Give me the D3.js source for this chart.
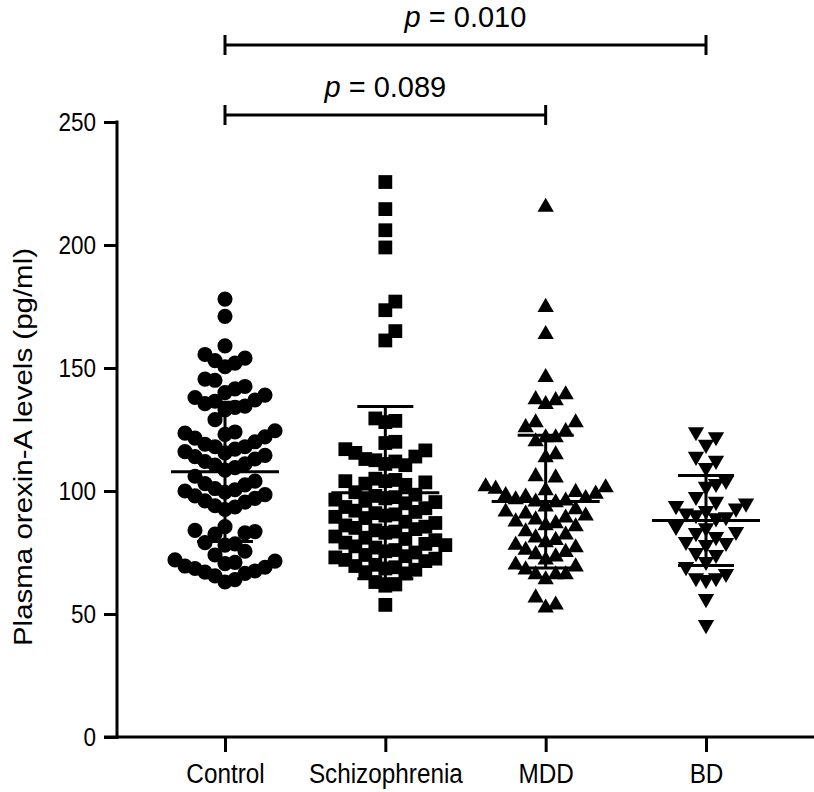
<!DOCTYPE html>
<html>
<head>
<meta charset="utf-8">
<script src="https://cdn.jsdelivr.net/npm/d3@7"></script>
<style>
body { margin: 0; background: #fff; }
text { font-family: "Liberation Sans", Arial, sans-serif; fill: #000; }
</style>
</head>
<body>
<script>
let width = 814
let height = 792

let groups = ["Control", "Schizophrenia", "MDD", "BD"]

let control = [178, 171, 159, 155.5, 153, 152, 154, 150.5, 145.5, 142.5, 145, 141.5,
  140, 139, 138, 137, 135.5, 134, 133, 134.5, 136.5,
  129,
  124.5, 123, 121.5, 122, 123.5, 124, 120,
  119, 118, 117, 115.5, 114, 113, 114.5, 116, 118,
  112, 109.5, 110.5, 108.5, 111,
  106, 104, 103, 102.5, 101,
  100.5, 99.5, 98, 97, 95.5, 94, 92.5, 93.5, 96, 98.5, 100,
  85.5, 83.5, 83, 84, 82.5, 78.5, 79, 78,
  75.5, 74,
  72, 71.5, 70.5, 69.5, 68.5, 67.5, 66.5, 65.5, 64, 63, 67, 69, 71]

let schizophrenia = [225.6, 214.6, 206, 199, 177, 173.5, 165, 161.2,
  129.5, 128.5, 128, 120, 119.5,
  117, 116.5, 115.5, 114, 113, 112, 111, 110.5, 112.5,
  103, 103.5, 104, 104.5, 105, 102.5, 104,
  95, 95.5, 96, 96.5, 97, 97.5, 98, 98.5, 99.5,
  89, 89.5, 90, 90.5, 91, 91.5, 92, 93, 93.5,
  83, 83.5, 84, 84.5, 85, 85.5, 86, 87, 87.5,
  77, 77.5, 78, 78.5, 79, 80, 80.5, 81, 81.5,
  71.5, 72, 72.5, 73, 73.5, 74, 75, 75.5, 76,
  66.5, 67, 68, 68.5, 69, 69.5, 70,
  62, 61.5, 63, 53.7]

let mdd = [215.4, 174.7, 163.7, 146.2, 137.2, 135.2, 136.8, 139.2,
  127.8, 125.8, 124.2, 127.8, 121.7, 120.1, 121.7, 114.8, 113.6, 105.9, 105.4,
  95.3, 95.6, 96, 96.5, 97, 97.6, 98.2, 98.8, 99.5, 100.2, 100.8, 101.4, 101.8,
  85.5, 86, 86.8, 87.5, 88.3, 89.1, 89.9, 90.7, 91.5, 92.5, 93.6,
  73.3, 74.2, 75.1, 76, 77, 78, 79, 80, 81, 82.2, 83.5,
  72, 69.2, 70, 68, 66, 66, 64, 66, 56.6, 52.5, 53.7]

let bd = [122, 124, 118.9, 114, 112.4, 109.5, 104.2, 101.8, 103, 97.7,
  89, 89.5, 90.3, 91, 92, 93, 94, 95, 95.7,
  85.5, 83.5, 81.4, 79, 78.2, 79.4, 85, 83,
  74.9, 74.1, 71.3, 69.2, 64.7, 63.9, 66.4, 64.7, 56.2, 45.6]

// mean and SD
let means = [107.8, 99.3, 95.7, 88]
let sds = [28.3, 35, 27, 18.3]

let yTicks = [0, 50, 100, 150, 200, 250]

let comparisons = [
  {from: "Control", to: "BD", p: "0.010", level: 0},
  {from: "Control", to: "MDD", p: "0.089", level: 1}
]

let series = [control, schizophrenia, mdd, bd]
let shapes = [d3.symbolCircle, d3.symbolSquare, d3.symbolTriangle, d3.symbolTriangle]
let shapeSize = [180, 190, 115, 115]
let shapeRotate = [0, 0, 0, 180]

let svg = d3.select("body")
  .append("svg")
  .attr("width", width)
  .attr("height", height)
  .style("background", "#fff")

let x = d3.scalePoint()
  .domain(groups)
  .range([225, 706])

let y = d3.scaleLinear()
  .domain([0, 250])
  .range([737, 122])

// beeswarm like Prism: slots 0, +s, -s, +2s ... lowest values take the centre
function swarm(values, step, gap) {
  let sorted = values.slice().sort((a, b) => a - b)
  let placed = []
  let offsets = [0]
  for (let i = 1; i < 15; i++) offsets.push(i * step, -i * step)
  return sorted.map(v => {
    let py = y(v)
    for (let o of offsets) {
      let hit = placed.some(p => p.o === o && Math.abs(p.y - py) < gap)
      if (!hit) {
        placed.push({o: o, y: py})
        return {v: v, dx: o}
      }
    }
  })
}

// axes
let yAxis = d3.axisLeft(y)
  .tickValues(yTicks)
  .tickSize(13)
  .tickSizeOuter(0)
  .tickPadding(0)

let gy = svg.append("g")
  .attr("transform", "translate(117,0)")
  .call(yAxis)
gy.select(".domain").attr("stroke-width", 3).attr("d", "M0,120.5V739")
gy.selectAll(".tick line").attr("stroke-width", 3)
gy.selectAll(".tick text")
  .attr("x", 0)
  .attr("transform", "translate(-21,0) scale(0.9,1)")
  .style("font-size", "25px").attr("fill", "#000")

let xAxis = d3.axisBottom(x)
  .tickSize(15)
  .tickSizeOuter(0)
  .tickPadding(12)

let gx = svg.append("g")
  .attr("transform", "translate(0,737)")
  .call(xAxis)
gx.select(".domain").attr("stroke-width", 3).attr("d", "M104,0H814")
gx.selectAll(".tick line").attr("stroke-width", 3)
gx.selectAll(".tick text")
  .attr("transform", "scale(0.9,1)")
  .style("font-size", "27px").attr("fill", "#000")

svg.append("text")
  .attr("transform", "translate(32,447) rotate(-90) scale(1,0.88)")
  .attr("text-anchor", "middle")
  .style("font-size", "29.5px")
  .text("Plasma orexin-A levels (pg/ml)")

// points
series.forEach((vals, i) => {
  let g = groups[i]
  svg.append("g")
    .selectAll("path")
    .data(swarm(vals, 10, 16))
    .enter()
    .append("path")
    .attr("d", d3.symbol().type(shapes[i]).size(shapeSize[i]))
    .attr("transform", d => "translate(" + (x(g) + d.dx) + "," + y(d.v) + ") rotate(" + shapeRotate[i] + ")")
    .style("fill", "#000")
})

// mean +- SD
groups.forEach((g, i) => {
  let cx = x(g)
  let eb = svg.append("g").attr("stroke", "#000").attr("stroke-width", 3)
  eb.append("line").attr("x1", cx).attr("x2", cx)
    .attr("y1", y(means[i] + sds[i])).attr("y2", y(means[i] - sds[i]))
  eb.append("line").attr("x1", cx - 54).attr("x2", cx + 54)
    .attr("y1", y(means[i])).attr("y2", y(means[i]))
  ;[means[i] + sds[i], means[i] - sds[i]].forEach(v => {
    eb.append("line").attr("x1", cx - 28).attr("x2", cx + 28)
      .attr("y1", y(v)).attr("y2", y(v))
  })
})

// significance brackets
let barY = [45, 115]
comparisons.forEach(c => {
  let by = barY[c.level]
  let x1 = x(c.from), x2 = x(c.to)
  let b = svg.append("g").attr("stroke", "#000").attr("stroke-width", 3)
  b.append("line").attr("x1", x1).attr("x2", x2).attr("y1", by).attr("y2", by)
  b.append("line").attr("x1", x1).attr("x2", x1).attr("y1", by - 10).attr("y2", by + 10)
  b.append("line").attr("x1", x2).attr("x2", x2).attr("y1", by - 10).attr("y2", by + 10)

  let t = svg.append("text")
    .attr("x", (x1 + x2) / 2)
    .attr("y", by - 18)
    .attr("text-anchor", "middle")
    .style("font-size", "29px")
  t.append("tspan").style("font-style", "italic").text("p")
  t.append("tspan").text(" = " + c.p)
})
</script>
</body>
</html>
